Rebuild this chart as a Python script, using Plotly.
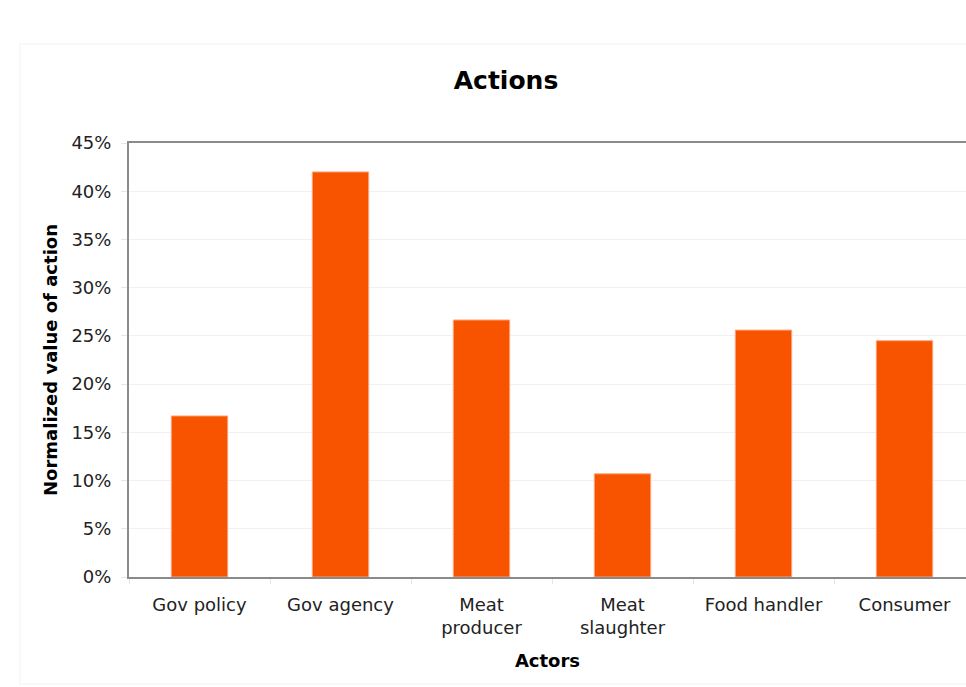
import plotly.graph_objects as go

categories = ["Gov policy", "Gov agency", "Meat<br>producer", "Meat<br>slaughter", "Food handler", "Consumer"]
values = [0.167, 0.420, 0.2665, 0.107, 0.256, 0.245]
y_ticks = [0, 0.05, 0.10, 0.15, 0.20, 0.25, 0.30, 0.35, 0.40, 0.45]
y_tick_labels = ["0%", "5%", "10%", "15%", "20%", "25%", "30%", "35%", "40%", "45%"]

FONT = "DejaVu Sans, Verdana, sans-serif"

fig = go.Figure(go.Bar(
    x=categories, y=values,
    width=0.4,
    marker=dict(color="#F85400", line=dict(color="#FBA77C", width=1)),
    hoverinfo="skip",
))

W, H = 966, 687
L, R, T, B = 129, 0, 143, 110
pw, ph = W - L - R, H - T - B

def px_x(x):
    return (x - L) / pw

def px_y(y):
    return (H - B - y) / ph

fig.update_layout(
    width=W, height=H,
    margin=dict(l=L, r=R, t=T, b=B, pad=0),
    paper_bgcolor="white", plot_bgcolor="white",
    font=dict(family=FONT, size=18, color="#222"),
    showlegend=False,
    title=dict(text="<b>Actions</b>", x=506 / W, xanchor="center", xref="container",
               y=1 - 80 / H, yanchor="middle", yref="container",
               font=dict(family=FONT, size=25, color="black")),
    shapes=[dict(type="rect", xref="paper", yref="paper",
                 x0=px_x(20), x1=px_x(1010), y0=px_y(684), y1=px_y(44),
                 line=dict(color="#f3f3f3", width=1), layer="below")],
)

fig.update_xaxes(
    type="category",
    range=[-0.5, -0.5 + pw / 141.0],
    showline=True, linecolor="#8a8a8a", linewidth=2, mirror=True,
    ticks="outside", tickson="boundaries", ticklen=5, tickcolor="#e6e6e6",
    ticklabelstandoff=10,
    showgrid=False,
    tickfont=dict(family=FONT, size=18, color="#222"),
    title=dict(text="<b>Actors</b>", font=dict(family=FONT, size=18, color="black"), standoff=17),
)

fig.update_yaxes(
    range=[0, 0.45],
    tickvals=y_ticks, ticktext=y_tick_labels,
    showline=True, linecolor="#8a8a8a", linewidth=2,
    ticks="outside", ticklen=6, tickcolor="#e6e6e6",
    ticklabelstandoff=6,
    showgrid=True, gridcolor="#f1f1f1", gridwidth=1,
    zeroline=False,
    tickfont=dict(family=FONT, size=18, color="#222"),
    title=dict(text="<b>Normalized value of action</b>", font=dict(family=FONT, size=18, color="black"), standoff=9),
)

fig.write_html("out.html")
